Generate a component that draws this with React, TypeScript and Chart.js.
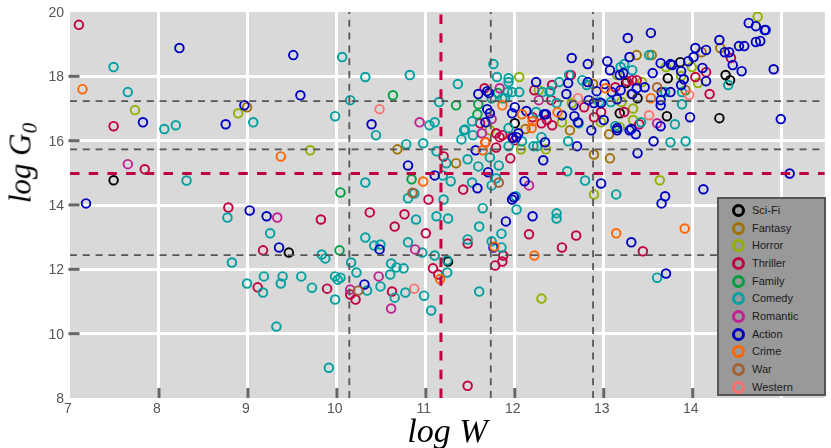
import React, { useEffect, useRef } from "react";
import { Chart, registerables } from "chart.js";

Chart.register(...registerables);

const sciFi = [[7.49,14.77],[9.46,12.52],[11.25,12.24],[12.0,16.54],[13.72,17.94],[13.25,17.79],[13.38,17.32],[13.18,16.85],[13.71,16.76],[13.86,18.44],[14.37,18.04],[14.42,17.88],[14.30,16.70]];
const fantasy = [[8.99,17.04],[10.68,15.73],[11.34,15.30],[12.89,15.57],[13.07,15.45],[13.06,16.20],[12.62,16.32],[13.37,18.66],[13.54,18.66],[12.88,17.76],[13.31,17.45],[14.10,18.75],[14.31,18.88],[13.92,17.57],[12.12,16.36]];
const horror = [[7.73,16.95],[8.89,16.85],[9.70,15.70],[12.30,11.09],[12.07,15.73],[12.35,15.73],[13.63,14.77],[12.89,14.33],[14.73,19.85],[13.99,18.29],[14.06,17.79],[13.87,18.01],[13.15,18.04],[12.97,16.57],[13.20,17.20],[13.33,17.00],[13.33,16.64],[12.53,16.57],[13.70,18.29],[13.43,17.82],[13.18,16.42],[12.64,17.17],[12.05,17.98],[12.27,17.57],[11.72,16.33]];
const thriller = [[7.10,19.60],[7.49,16.45],[7.84,15.11],[8.78,13.92],[9.17,12.59],[9.11,11.44],[9.82,13.55],[10.37,13.77],[10.65,13.33],[10.76,13.71],[11.03,14.17],[11.0,13.12],[9.89,11.40],[10.15,11.22],[10.21,11.06],[10.62,11.31],[11.08,12.03],[11.14,11.84],[11.47,12.80],[12.16,13.09],[11.87,12.43],[11.86,12.24],[11.78,12.12],[11.47,8.38],[12.53,12.68],[12.69,13.05],[13.44,12.56],[11.42,14.48],[11.20,15.51],[11.79,15.79],[11.95,15.45],[11.83,16.11],[11.79,16.23],[11.67,15.95],[11.86,16.17],[12.0,16.01],[11.66,17.63],[12.22,17.57],[12.30,16.54],[11.97,16.11],[11.61,16.54],[12.42,17.73],[12.42,16.48],[12.2,16.73],[12.41,17.26],[12.89,16.73],[12.78,17.04],[12.97,16.89],[13.13,17.66],[12.63,18.04],[13.26,17.85],[13.32,17.88],[13.37,17.88],[13.23,16.89],[13.40,16.51],[12.36,16.64],[14.43,18.57],[14.15,18.13],[14.03,17.98],[14.19,17.45]];
const family = [[10.03,12.59],[10.04,14.39],[10.84,14.80],[10.63,17.41],[11.34,17.10],[11.59,17.13],[11.58,16.82],[11.81,17.48]];
const comedy = [[7.49,18.29],[7.65,17.51],[8.06,16.36],[8.19,16.48],[8.31,14.76],[9.06,16.57],[8.77,13.61],[9.25,13.12],[8.82,12.21],[9.18,11.78],[8.99,11.56],[9.17,11.28],[9.32,10.22],[9.37,11.56],[9.39,11.78],[9.60,11.78],[9.72,11.43],[9.83,12.46],[9.87,12.34],[9.98,11.78],[10.01,11.68],[10.04,11.74],[9.98,11.06],[10.16,12.21],[10.22,11.90],[10.32,12.99],[10.42,12.74],[10.49,12.77],[10.61,12.18],[10.67,12.06],[10.75,12.03],[10.60,11.84],[10.49,11.47],[10.34,11.34],[10.65,11.12],[10.77,11.28],[10.98,11.18],[10.80,12.84],[10.96,12.52],[11.10,12.43],[11.24,11.90],[11.24,12.28],[10.32,14.70],[11.12,13.65],[10.89,13.55],[10.80,14.21],[10.87,14.36],[11.25,13.58],[9.91,8.94],[11.06,10.72],[11.60,11.31],[11.47,12.93],[11.60,13.33],[11.74,12.87],[11.85,12.68],[11.85,13.11],[11.64,13.90],[12.02,13.86],[12.01,14.27],[11.20,14.17],[12.47,13.74],[12.47,13.58],[11.74,14.61],[11.79,14.83],[11.52,14.70],[11.28,14.74],[11.19,14.92],[11.59,15.20],[11.47,15.42],[11.23,15.30],[11.82,15.23],[11.72,15.48],[11.40,16.04],[11.53,16.17],[11.43,16.32],[11.93,15.83],[12.21,15.83],[12.25,15.83],[12.08,15.98],[12.30,16.11],[12.60,15.98],[12.59,15.05],[12.79,14.76],[13.14,14.33],[13.75,15.95],[13.92,15.98],[13.60,11.74],[14.40,17.73],[13.88,17.13],[13.80,16.51],[13.88,17.51],[11.76,18.38],[11.80,17.98],[11.93,17.94],[11.93,17.82],[11.92,17.51],[11.97,17.51],[11.36,17.76],[11.15,17.20],[11.10,16.57],[11.04,16.48],[10.97,15.92],[11.12,15.67],[11.44,16.35],[11.52,16.60],[11.74,17.32],[11.86,17.32],[11.89,17.32],[11.93,16.39],[12.05,17.51],[12.24,16.89],[12.50,17.82],[12.39,17.51],[12.31,17.51],[12.47,17.17],[12.72,16.54],[12.76,17.88],[12.61,18.04],[12.81,17.73],[12.40,17.54],[12.95,17.20],[13.13,16.45],[13.19,18.29],[13.23,18.38],[13.32,18.19],[13.51,18.66],[13.08,17.20],[13.69,17.51],[13.42,16.57],[10.32,17.98],[10.82,18.04],[10.15,17.26],[9.98,16.76],[10.44,16.17],[10.78,15.89],[10.06,18.60]];
const romantic = [[7.65,15.27],[9.33,13.61],[10.47,11.78],[10.15,11.37],[10.88,12.62],[10.61,10.78],[10.93,16.57],[11.83,17.63],[11.74,16.67],[11.63,16.23],[12.27,17.26],[12.16,14.61],[13.60,16.54]];
const action = [[7.18,14.05],[8.23,18.88],[7.82,16.57],[8.75,16.51],[8.96,17.10],[9.02,13.83],[9.21,13.65],[9.35,12.68],[9.51,18.66],[9.59,17.41],[10.39,16.51],[10.48,12.62],[10.31,11.53],[10.80,15.23],[11.10,14.92],[11.59,17.45],[12.24,17.82],[11.69,17.54],[11.71,17.48],[11.69,16.98],[11.72,16.85],[11.67,16.57],[12.00,17.04],[11.97,16.85],[12.13,16.92],[12.33,16.82],[12.04,16.23],[11.98,16.08],[12.02,16.11],[12.34,15.95],[11.56,15.70],[12.32,15.39],[11.70,15.02],[12.11,14.74],[11.58,14.52],[11.97,14.17],[11.99,14.24],[11.90,13.49],[12.20,13.65],[12.70,15.83],[12.97,14.67],[13.38,15.61],[13.56,15.98],[13.69,14.27],[13.65,14.05],[14.12,14.49],[13.31,12.84],[13.70,11.87],[11.76,12.68],[12.86,16.32],[13.15,16.32],[13.36,16.20],[13.29,16.32],[12.64,18.57],[12.82,18.38],[13.04,18.47],[13.07,18.19],[13.29,18.60],[13.64,18.41],[13.75,18.38],[13.22,18.10],[13.18,18.04],[13.55,18.10],[13.01,17.76],[12.60,17.79],[12.82,17.82],[12.58,17.45],[12.92,17.54],[13.09,17.51],[13.19,17.57],[13.15,17.29],[13.46,17.66],[13.37,17.63],[13.32,17.45],[13.65,17.51],[13.64,17.26],[13.64,17.10],[12.83,17.26],[12.89,17.17],[12.97,17.17],[12.66,17.10],[12.53,16.79],[12.67,16.76],[12.71,16.57],[12.35,16.82],[13.00,16.64],[13.15,16.39],[13.31,16.36],[13.64,16.45],[13.27,19.19],[13.53,19.35],[14.63,19.66],[14.71,19.56],[14.81,19.44],[14.82,19.44],[14.30,19.13],[14.52,18.94],[14.58,18.94],[14.71,19.07],[14.76,19.10],[14.36,18.75],[14.41,18.75],[14.45,18.35],[14.55,18.16],[14.91,18.22],[14.15,18.82],[14.03,18.88],[14.01,18.60],[13.95,18.47],[13.77,18.35],[14.11,18.26],[13.87,18.16],[13.90,17.91],[14.15,17.85],[13.87,17.73],[13.75,17.51],[13.97,16.73],[14.99,16.67],[15.09,14.98]];
const crime = [[7.14,17.60],[9.37,15.51],[10.97,14.73],[11.16,11.70],[11.77,12.71],[12.22,12.43],[11.67,15.95],[11.64,15.70],[13.14,13.12],[13.91,13.27],[11.86,17.10],[12.08,16.82],[12.20,16.60],[12.19,16.39],[12.48,16.88],[13.02,17.63],[13.53,17.32]];
const war = [[10.24,11.34],[10.85,14.38],[11.82,14.70],[13.60,17.66]];
const western = [[10.48,16.98],[10.87,11.40],[12.71,17.32],[13.51,16.79],[13.96,17.42]];

const genres = ["Sci-Fi", "Fantasy", "Horror", "Thriller", "Family", "Comedy", "Romantic", "Action", "Crime", "War", "Western"];
const genreColors = ["#000000", "#a07000", "#90b000", "#c00040", "#00a040", "#00a0a0", "#c02090", "#0000c0", "#ff6600", "#a06030", "#ff7070"];
const genreValues = [sciFi, fantasy, horror, thriller, family, comedy, romantic, action, crime, war, western];

const xMin = 7;
const xMax = 15.485;
const yMin = 8;
const yMax = 20;
const xTickMarks = [8, 9, 10, 11, 12, 13, 14];
const yTickMarks = [10, 12, 14, 16, 18];
const grayHLines = [17.23, 15.73, 12.44];
const grayVLines = [10.14, 11.73, 12.88];
const redHLine = 14.98;
const redVLine = 11.17;

const backdropAndTicks = {
  id: "backdropAndTicks",
  beforeDraw(chart: any) {
    const { ctx, chartArea: a } = chart;
    ctx.save();
    ctx.fillStyle = "#d9d9d9";
    ctx.fillRect(a.left, a.top, a.right - a.left, a.bottom - a.top);
    ctx.restore();
  },
  beforeDatasetsDraw(chart: any) {
    const { ctx, chartArea: a, scales } = chart;
    ctx.save();
    ctx.fillStyle = "#666666";
    for (const v of xTickMarks) {
      const p = scales.x.getPixelForValue(v);
      ctx.fillRect(p - 1.5, a.bottom - 10, 3, 10);
    }
    for (const v of yTickMarks) {
      const p = scales.y.getPixelForValue(v);
      ctx.fillRect(a.left - 1.5, p - 1.5, 11, 3);
    }
    ctx.restore();
  },
};

function refLine(points: number[][], color: string, width: number, dash: number[]) {
  return {
    type: "scatter",
    data: points.map(([x, y]) => ({ x, y })),
    showLine: true,
    borderColor: color,
    borderWidth: width,
    borderDash: dash,
    pointRadius: 0,
    fill: false,
    order: -100,
  };
}

const clearScalePadding = (s: any) => {
  s.paddingTop = 0;
  s.paddingBottom = 0;
  s.paddingLeft = 0;
  s.paddingRight = 0;
};

const gridColor = (edges: number[]) => (c: any) =>
  c.tick && edges.includes(c.tick.value) ? "rgba(255,255,255,0)" : "#ffffff";

export default function App() {
  const ref = useRef<HTMLCanvasElement | null>(null);
  useEffect(() => {
    if (!ref.current) return;
    const grayDash = [7, 5.8];
    const redDash = [9.5, 9.2];
    const gray = "#555555";
    const datasets: any[] = [
      ...grayHLines.map((v) => refLine([[xMin, v], [xMax, v]], gray, 1.8, grayDash)),
      ...grayVLines.map((v) => refLine([[v, yMin], [v, yMax]], gray, 1.8, grayDash)),
      refLine([[xMin, redHLine], [xMax, redHLine]], "#c00040", 3, redDash),
      refLine([[redVLine, yMin], [redVLine, yMax]], "#c00040", 3, redDash),
      ...genres.map((g, i) => ({
        label: g,
        type: "scatter",
        data: genreValues[i].map(([x, y]) => ({ x, y })),
        borderColor: genreColors[i],
        backgroundColor: "transparent",
        borderWidth: 1.9,
        pointRadius: 4.3,
        order: -i,
      })),
    ];
    const chart = new Chart(ref.current, {
      type: "scatter",
      data: { datasets },
      plugins: [backdropAndTicks],
      options: {
        animation: false,
        responsive: false,
        layout: { padding: { top: 12, right: 5, left: 0, bottom: 0 } },
        plugins: { legend: { display: false }, tooltip: { enabled: false } },
        scales: {
          x: {
            type: "linear",
            min: xMin,
            max: xMax,
            afterFit: (s: any) => { s.height = 50; clearScalePadding(s); },
            afterBuildTicks: (s: any) => { s.ticks = [7, 8, 9, 10, 11, 12, 13, 14, 15].map((value) => ({ value })); },
            border: { display: false },
            grid: { color: gridColor([7]), lineWidth: 3, drawTicks: false },
            ticks: {
              color: "#555555",
              font: { family: "'Liberation Sans'", size: 14 },
              padding: 3,
              labelOffset: -2,
              maxRotation: 0,
              autoSkip: false,
              callback: (v: any) => (v === 15 ? "" : String(v)),
            },
            title: {
              display: true,
              text: "log W",
              color: "#000000",
              font: { family: "'Liberation Serif'", size: 34, style: "italic", weight: "normal" },
              padding: { top: 0, bottom: -5 },
            },
          },
          y: {
            type: "linear",
            min: yMin,
            max: yMax,
            afterFit: (s: any) => { s.width = 70; clearScalePadding(s); },
            afterBuildTicks: (s: any) => { s.ticks = [8, 10, 12, 14, 16, 18, 20].map((value) => ({ value })); },
            border: { display: false },
            grid: { color: gridColor([8, 20]), lineWidth: 3, drawTicks: false },
            ticks: {
              color: "#555555",
              font: { family: "'Liberation Sans'", size: 14 },
              padding: 6,
              labelOffset: 1,
              autoSkip: false,
            },
          },
        },
      },
    } as any);
    return () => chart.destroy();
  }, []);

  return (
    <div style={{ position: "fixed", left: 0, top: 0, width: 831, height: 448, background: "#fff", overflow: "hidden" }}>
      <canvas ref={ref} width={831} height={448} style={{ display: "block" }} />
      <div
        style={{
          position: "absolute",
          left: 20,
          top: 163,
          transform: "translate(-50%,-50%) rotate(-90deg)",
          font: "italic 31px 'Liberation Serif'",
          whiteSpace: "nowrap",
          color: "#000",
          lineHeight: 1,
        }}
      >
        log G<sub style={{ fontSize: 21, verticalAlign: -6, lineHeight: 0 }}>0</sub>
      </div>
      <div
        style={{
          position: "absolute",
          left: 717,
          top: 197,
          width: 109,
          height: 199,
          boxSizing: "border-box",
          background: "#999999",
          border: "2.5px solid #555555",
        }}
      >
        {genres.map((g, i) => (
          <div key={g} style={{ position: "absolute", left: 0, top: 3 + i * 17.67, height: 17, width: 100 }}>
            <span
              style={{
                position: "absolute",
                left: 13,
                top: 2,
                width: 13,
                height: 13,
                boxSizing: "border-box",
                borderRadius: "50%",
                border: `3px solid ${genreColors[i]}`,
              }}
            />
            <span
              style={{
                position: "absolute",
                left: 33,
                top: 0,
                font: "11px/17px 'Liberation Sans'",
                color: "#1a1a1a",
              }}
            >
              {g}
            </span>
          </div>
        ))}
      </div>
    </div>
  );
}
